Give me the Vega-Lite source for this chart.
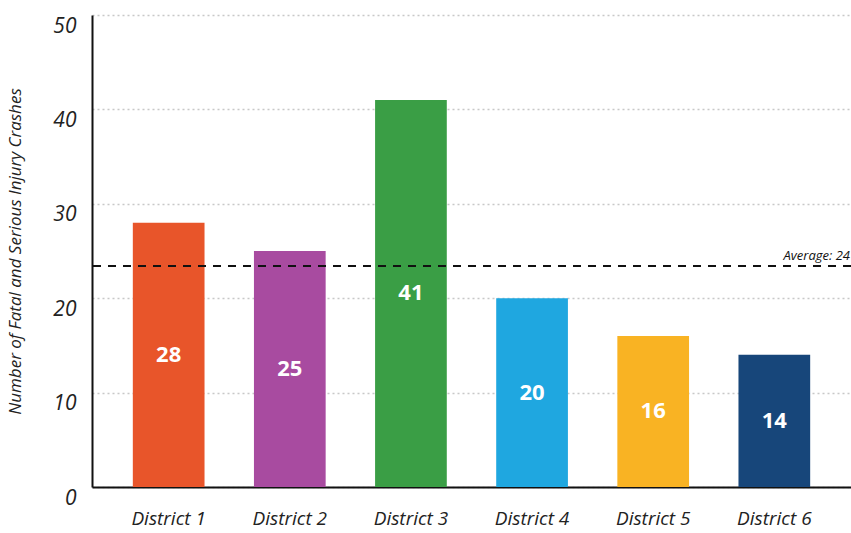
{
  "$schema": "https://vega.github.io/schema/vega-lite/v6.json",
  "width": 759,
  "height": 472,
  "autosize": {"type": "none"},
  "padding": {"left": 92, "top": 15, "right": 0, "bottom": 46},
  "background": "white",
  "config": {
    "view": {"stroke": null},
    "font": "Open Sans"
  },
  "datasets": {
    "bars": [
      {"district": "District 1", "crashes": 28},
      {"district": "District 2", "crashes": 25},
      {"district": "District 3", "crashes": 41},
      {"district": "District 4", "crashes": 20},
      {"district": "District 5", "crashes": 16},
      {"district": "District 6", "crashes": 14}
    ],
    "avg": [{"average": 23.4, "label": "Average: 24"}]
  },
  "layer": [
    {
      "data": {"name": "bars"},
      "mark": {"type": "bar"},
      "encoding": {
        "x": {
          "field": "district", "type": "nominal", "sort": null,
          "scale": {"paddingInner": 0.408, "paddingOuter": 0.337},
          "axis": {
            "title": null, "labelAngle": 0, "labelFont": "Open Sans", "labelFontStyle": "italic",
            "labelFontSize": 19, "labelColor": "#222", "labelPadding": 22, "ticks": false,
            "domainColor": "#111", "domainWidth": 2
          }
        },
        "y": {
          "field": "crashes", "type": "quantitative",
          "scale": {"domain": [0, 50]},
          "axis": {
            "title": "Number of Fatal and Serious Injury Crashes",
            "titleFont": "Open Sans", "titleFontStyle": "italic", "titleFontWeight": "normal",
            "titleFontSize": 17, "titleColor": "#222",
            "titleAngle": -90, "titleX": -77, "titleY": 236, "titleAlign": "center", "titleBaseline": "middle",
            "values": [0, 10, 20, 30, 40, 50],
            "labelFont": "Open Sans", "labelFontStyle": "italic", "labelFontSize": 21, "labelColor": "#222",
            "labelPadding": 16, "labelOffset": 11, "ticks": false,
            "domainColor": "#111", "domainWidth": 2,
            "grid": true, "gridColor": "#c8c8c8", "gridDash": [2, 3], "gridWidth": 1.5
          }
        },
        "color": {
          "field": "district", "type": "nominal", "legend": null,
          "scale": {
            "domain": ["District 1", "District 2", "District 3", "District 4", "District 5", "District 6"],
            "range": ["#E8552A", "#A84BA0", "#3A9E45", "#1FA7E0", "#F9B323", "#17467A"]
          }
        }
      }
    },
    {
      "data": {"name": "bars"},
      "mark": {"type": "text", "color": "white", "fontSize": 22, "fontWeight": "bold", "font": "Open Sans"},
      "encoding": {
        "x": {"field": "district", "type": "nominal", "sort": null},
        "y": {"field": "crashes", "type": "quantitative", "stack": "zero", "bandPosition": 0.5},
        "text": {"field": "crashes", "type": "quantitative"}
      }
    },
    {
      "data": {"name": "avg"},
      "mark": {"type": "rule", "color": "#111", "strokeWidth": 2, "strokeDash": [8, 7]},
      "encoding": {
        "y": {"field": "average", "type": "quantitative"}
      }
    },
    {
      "data": {"name": "avg"},
      "mark": {"type": "text", "align": "right", "baseline": "bottom", "dy": -3, "x": {"expr": "width - 1"}, "fontSize": 13, "fontStyle": "italic", "font": "Open Sans", "color": "#111"},
      "encoding": {
        "y": {"field": "average", "type": "quantitative"},
        "text": {"field": "label", "type": "nominal"}
      }
    }
  ]
}
